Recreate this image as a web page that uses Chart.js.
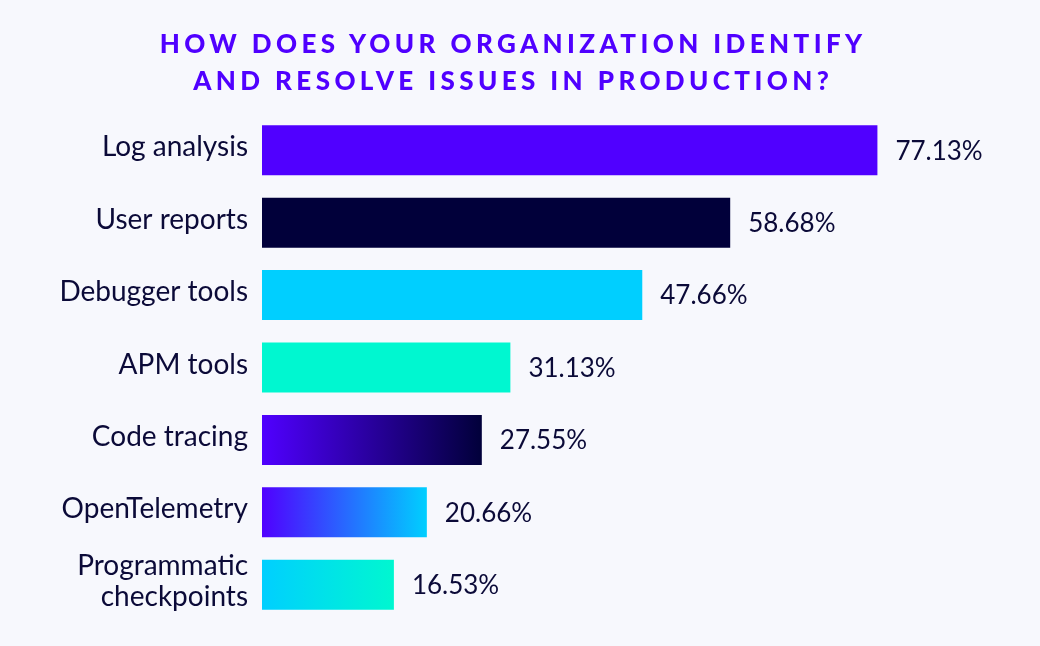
<!DOCTYPE html>
<html>
<head>
<meta charset="utf-8">
<script src="https://cdn.jsdelivr.net/npm/chart.js@4"></script>
<style>
  html, body { margin: 0; padding: 0; background: #f7f8fd; }
  #wrap { position: relative; width: 1040px; height: 646px; }
  #title {
    position: absolute; left: -9px; top: 25px; width: 1040px;
    text-align: center; font-family: Lato, sans-serif; font-weight: 900;
    font-size: 26px; line-height: 37px; letter-spacing: 4.4px;
    padding-left: 4.4px; box-sizing: border-box; color: #5000ff;
  }
  canvas { position: absolute; left: 0; top: 0; }
</style>
</head>
<body>
<div id="wrap">
  <canvas id="bar_chart" width="1040" height="646"></canvas>
  <div id="title">HOW DOES YOUR ORGANIZATION IDENTIFY<br>AND RESOLVE ISSUES IN PRODUCTION?</div>
</div>
<script>
// Data
const categories = ["Log analysis", "User reports", "Debugger tools", "APM tools", "Code tracing", "OpenTelemetry", ["Programmatic", "checkpoints"]];
const percentages = [77.13, 58.68, 47.66, 31.13, 27.55, 20.66, 16.53];

// colours: solid or [from, to] gradient, left to right
const PURPLE = "#5000ff", NAVY = "#01003a", CYAN = "#00cfff", MINT = "#00f7d0";
const bar_colors = [PURPLE, NAVY, CYAN, MINT, [PURPLE, NAVY], [PURPLE, CYAN], [CYAN, MINT]];
const TEXT = "#0b0a38";

const ctx = document.getElementById("bar_chart").getContext("2d");

function barFill(context){
	let c = bar_colors[context.dataIndex];
	if(!Array.isArray(c)) return c;
	let chart = context.chart;
	let xs = chart.scales.x;
	if(!chart.chartArea || !xs) return c[0];
	let x0 = xs.getPixelForValue(0);
	let x1 = xs.getPixelForValue(context.raw);
	let g = chart.ctx.createLinearGradient(x0, 0, x1, 0);
	g.addColorStop(0, c[0]);
	g.addColorStop(1, c[1]);
	return g;
}

// value labels at the end of every bar
const valueLabels = {
	id: "valueLabels",
	afterDatasetsDraw(chart){
		const c = chart.ctx;
		const meta = chart.getDatasetMeta(0);
		c.save();
		c.font = "400 26px Lato";
		c.fillStyle = TEXT;
		c.textAlign = "left";
		c.textBaseline = "middle";
		meta.data.forEach((bar, i) => {
			c.fillText(percentages[i].toFixed(2) + "%", bar.x + 18, bar.y + 1);
		});
		c.restore();
	}
};

new Chart(ctx, {
	type: "bar",
	data: {
		labels: categories,
		datasets: [{
			data: percentages,
			backgroundColor: barFill,
			borderWidth: 0,
			categoryPercentage: 0.69,
			barPercentage: 1
		}]
	},
	options: {
		indexAxis: "y",
		responsive: false,
		animation: false,
		layout: { padding: { top: 114, bottom: 25, left: 0, right: 20 } },
		plugins: { legend: { display: false }, tooltip: { enabled: false } },
		scales: {
			x: { display: false, min: 0, max: 95 },
			y: {
				grid: { display: false, drawTicks: false },
				border: { display: false },
				afterFit(s){
					s.width = 262;
					s.paddingTop = 0;
					s.paddingBottom = 0;
				},
				ticks: {
					color: TEXT,
					padding: 14,
					labelOffset: -3,
					font: { family: "Lato", size: 28, weight: "400", lineHeight: 1.1 }
				}
			}
		}
	},
	plugins: [valueLabels]
});
</script>
</body>
</html>
